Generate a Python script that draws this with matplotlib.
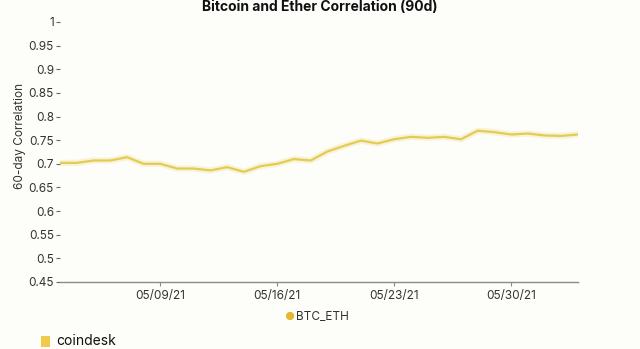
import matplotlib
matplotlib.use("Agg")
import matplotlib.pyplot as plt
import matplotlib.dates as mdates
import pandas as pd

plt.rcParams["font.family"] = ["Inter", "DejaVu Sans"]

# daily 60-day correlation BTC/ETH, 2021-05-03 .. 2021-06-03
dates = pd.date_range("2021-05-03", "2021-06-03", freq="D")
btc_eth = [0.702, 0.702, 0.707, 0.707, 0.714, 0.700, 0.700, 0.690,
           0.690, 0.686, 0.693, 0.683, 0.695, 0.700, 0.710, 0.707,
           0.726, 0.738, 0.749, 0.743, 0.752, 0.757, 0.755, 0.757,
           0.752, 0.770, 0.767, 0.762, 0.764, 0.760, 0.759, 0.762]
yticks = [0.45, 0.5, 0.55, 0.6, 0.65, 0.7, 0.75, 0.8, 0.85, 0.9, 0.95, 1.0]
ytick_labels = ["0.45", "0.5", "0.55", "0.6", "0.65", "0.7", "0.75",
                "0.8", "0.85", "0.9", "0.95", "1"]
xticks = ["2021-05-09", "2021-05-16", "2021-05-23", "2021-05-30"]

BG = "#fdfdfa"
LINE = "#e4cc52"
TEXT = "#333333"

fig = plt.figure(figsize=(6.4, 3.49), dpi=100, facecolor=BG)
ax = fig.add_axes([0.094, 0.192, 0.809, 0.745], facecolor=BG)

# soft glow under the line
ax.plot(dates, btc_eth, color=LINE, linewidth=4.5, alpha=0.2, solid_capstyle="round")
ax.plot(dates, btc_eth, color=LINE, linewidth=1.6, solid_joinstyle="round")

ax.set_xlim(dates[0], dates[-1])
ax.set_ylim(0.45, 1.0)
ax.set_yticks(yticks)
ax.set_yticklabels(ytick_labels)
ax.set_xticks(pd.to_datetime(xticks))
ax.xaxis.set_major_formatter(mdates.DateFormatter("%m/%d/%y"))

for s in ["top", "right", "left"]:
    ax.spines[s].set_visible(False)
ax.spines["bottom"].set_color("#8a8a8a")
ax.spines["bottom"].set_linewidth(1.0)

ax.tick_params(axis="y", length=3, width=0.8, color="#666666", pad=1.5,
               labelsize=8.5, labelcolor=TEXT)
ax.tick_params(axis="x", length=3, width=0.8, color="#8a8a8a", pad=3,
               labelsize=8.5, labelcolor=TEXT)

ax.set_ylabel("60-day Correlation", fontsize=8.5, color=TEXT, labelpad=4)
ax.yaxis.set_label_coords(-0.066, 0.56)

fig.text(0.5, 1.0, "Bitcoin and Ether Correlation (90d)", ha="center", va="top",
         fontsize=10, fontweight="bold", color="#111111")

# legend
fig.text(0.452, 0.093, "\u25cf", ha="center", va="center", fontsize=8, color="#e5b832")
fig.text(0.462, 0.093, "BTC_ETH", ha="left", va="center", fontsize=8.5, color=TEXT)

# coindesk footer
fig.patches.append(plt.Rectangle((0.064, 0.006), 0.014, 0.03, transform=fig.transFigure,
                                 facecolor="#f2c94c", edgecolor="none"))
fig.text(0.088, 0.004, "coindesk", ha="left", va="bottom", fontsize=10,
         color="#111111")

fig.savefig("out.png", dpi=100, facecolor=BG)
